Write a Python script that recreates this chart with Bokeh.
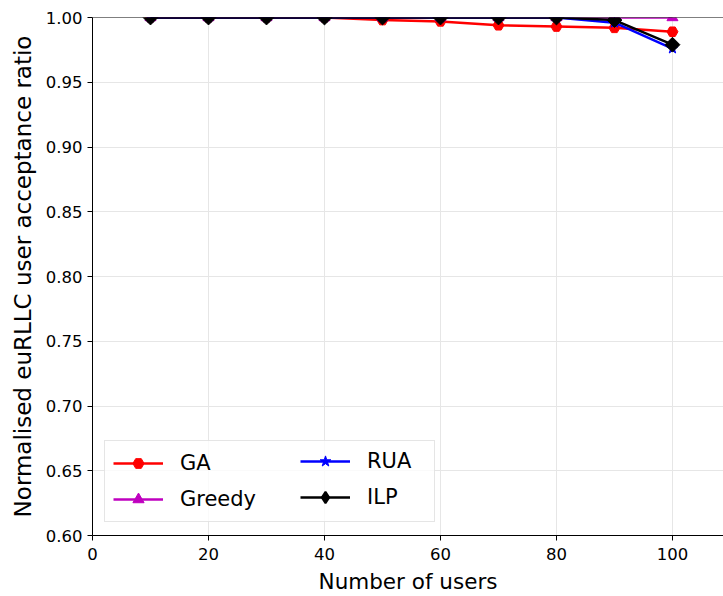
import math
from bokeh.plotting import figure
from bokeh.models import (Range1d, FixedTicker, Span, Legend, LegendItem,
                          CustomJSTickFormatter)
from bokeh.embed import file_html
from bokeh.resources import INLINE

# Number of users per scenario
users = [10, 20, 30, 40, 50, 60, 70, 80, 90, 100]

# Normalised euRLLC user acceptance ratio per scheme
ga = [1.0, 1.0, 1.0, 1.0, 0.998, 0.997, 0.994, 0.993, 0.992, 0.989]
greedy = [1.0, 1.0, 1.0, 1.0, 1.0, 1.0, 1.0, 1.0, 1.0, 1.0]
rua = [1.0, 1.0, 1.0, 1.0, 1.0, 1.0, 1.0, 1.0, 0.996, 0.976]
ilp = [1.0, 1.0, 1.0, 1.0, 1.0, 1.0, 1.0, 1.0, 0.998, 0.979]

x_ticks = [0, 20, 40, 60, 80, 100]
y_ticks = [0.60, 0.65, 0.70, 0.75, 0.80, 0.85, 0.90, 0.95, 1.00]

FONT = "DejaVu Sans"

p = figure(width=723, height=596, output_backend="svg", toolbar_location=None,
           x_range=Range1d(0, 108.8), y_range=Range1d(0.6, 1.0),
           min_border_left=92, min_border_right=0, min_border_top=17,
           min_border_bottom=61)
p.outline_line_color = None
p.background_fill_color = "white"
p.border_fill_color = "white"

for ax in (p.xaxis[0], p.yaxis[0]):
    ax.axis_line_color = "black"
    ax.axis_line_width = 1
    ax.major_tick_line_color = "black"
    ax.major_tick_out = 5
    ax.major_tick_in = 0
    ax.minor_tick_line_color = None
    ax.major_label_text_font = FONT
    ax.major_label_text_font_size = "16.5px"
    ax.major_label_text_color = "black"
    ax.axis_label_text_font = FONT
    ax.axis_label_text_font_style = "normal"
    ax.axis_label_text_color = "black"

p.xaxis.ticker = FixedTicker(ticks=x_ticks)
p.yaxis.ticker = FixedTicker(ticks=y_ticks)
p.yaxis.formatter = CustomJSTickFormatter(code="return tick.toFixed(2);")
p.xaxis.axis_label = "Number of users"
p.yaxis.axis_label = "Normalised euRLLC user acceptance ratio"
p.xaxis.axis_label_text_font_size = "21.5px"
p.yaxis.axis_label_text_font_size = "23px"
p.xaxis.major_label_standoff = 7
p.yaxis.major_label_standoff = 5
p.xaxis.axis_label_standoff = 6
p.yaxis.axis_label_standoff = 7

p.xgrid.ticker = FixedTicker(ticks=x_ticks)
p.ygrid.ticker = FixedTicker(ticks=y_ticks)
for g in (p.xgrid[0], p.ygrid[0]):
    g.grid_line_color = "#e6e6e6"
    g.grid_line_width = 1

# name, values, colour, plot marker, size, angle, legend marker, legend size
series = [
    ("GA", ga, "#ff0000", "hex", 11, 0, "hex", 11),
    ("Greedy", greedy, "#bf00bf", "triangle", 11, 0, "triangle", 11),
    ("RUA", rua, "#0000ff", "star", 11, 0, "star", 11),
    ("ILP", ilp, "#000000", "square", 10.5, math.pi / 4, "diamond", 14),
]

items = {}
for name, vals, color, marker, size, angle, lmarker, lsize in series:
    ln = p.line(users, vals, line_color=color, line_width=2.5)
    sc = p.scatter(users, vals, marker=marker, size=size, angle=angle,
                   fill_color=color, line_color=color)
    if lmarker == marker:
        items[name] = LegendItem(label=name, renderers=[ln, sc])
    else:
        # key symbol for the legend only; its single point lies off the axes
        key = p.scatter([-50], [0.0], marker=lmarker, size=lsize, line_width=2,
                        fill_color=color, line_color=color)
        items[name] = LegendItem(label=name, renderers=[ln, key])

# top spine
p.add_layout(Span(location=1.0, dimension="width", line_color="black",
                  line_width=1, level="overlay"))


def make_legend(entries, loc, label_width, framed):
    lg = Legend(items=entries, location=loc)
    lg.label_text_font = FONT
    lg.label_text_font_size = "21px"
    lg.label_text_color = "black"
    lg.glyph_width = 50
    lg.glyph_height = 28
    lg.label_standoff = 17
    lg.label_width = label_width
    lg.spacing = 8
    lg.padding = 8
    lg.margin = 0
    if framed:
        lg.border_line_color = "#cccccc"
        lg.border_line_width = 1
        lg.background_fill_color = "white"
        lg.background_fill_alpha = 0.8
    else:
        lg.border_line_color = None
        lg.background_fill_alpha = 0
    return lg


# left column carries the frame wide enough for both columns
p.add_layout(make_legend([items["GA"], items["Greedy"]], (12, 13), 246, True), "center")
p.add_layout(make_legend([items["RUA"], items["ILP"]], (208, 24), 20, False), "center")

open("out.html", "w").write(file_html(p, INLINE))
